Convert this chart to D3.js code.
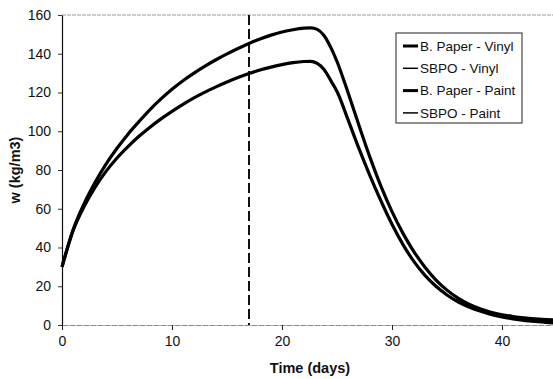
<!DOCTYPE html>
<html>
<head>
<meta charset="utf-8">
<script src="https://cdn.jsdelivr.net/npm/d3@7"></script>
<style>
  html, body { margin: 0; padding: 0; background: #fff; }
  svg { display: block; font-family: "Liberation Sans", Arial, sans-serif; }
</style>
</head>
<body>
<svg id="chart" width="553" height="379"></svg>
<script>
// Time axis (days) shared by all series
const days = [0, 1, 2, 3, 4, 5, 6, 7, 8, 9, 10, 11, 12, 13, 14, 15, 16, 17, 18, 19, 20, 21, 22,
  22.6, 23.2, 23.8, 24.5, 25, 26, 27, 28, 29, 30, 31, 32, 33, 34, 35, 36, 37, 38, 39, 40, 41, 42, 43, 44, 45];

// Moisture content w (kg/m3) for each wall assembly
const bPaperVinyl = [30, 49, 62.5, 73.5, 83, 91.2, 98.5, 105, 111.2, 116.7, 121.7, 126.1, 130, 133.6, 136.9, 139.9, 142.7, 145.3, 147.6, 149.6, 151.2, 152.4, 153.2,
  153.4, 152.6, 149.6, 142.5, 136, 120, 103, 86.5, 71.5, 58.5, 47.3, 37.8, 29.8, 23.2, 18, 13.9, 10.8, 8.4, 6.6, 5.3, 4.4, 3.7, 3.2, 2.8, 2.5];
const sbpoVinyl = [30, 49, 62.5, 73.5, 83, 91.2, 98.5, 105, 111.2, 116.7, 121.7, 126.1, 130, 133.6, 136.9, 139.9, 142.7, 145.3, 147.6, 149.6, 151.2, 152.4, 153.2,
  153.4, 152.6, 149.6, 142.5, 136, 120, 103, 86.5, 71.5, 58.5, 47.3, 37.8, 29.8, 23.2, 17.8, 13.6, 10.5, 8.1, 6.3, 5.0, 4.0, 3.1, 2.4, 1.9, 1.5];
const bPaperPaint = [30, 48.5, 61, 71, 79.3, 86.2, 92.1, 97.4, 102.1, 106.4, 110.3, 113.9, 117.2, 120.2, 122.9, 125.4, 127.7, 129.8, 131.6, 133.1, 134.4, 135.4, 136,
  136.1, 135, 132, 125.5, 120.5, 106, 91, 77, 64, 52, 41.5, 32.7, 25.6, 20, 15.5, 12, 9.3, 7.2, 5.5, 4.2, 3.2, 2.4, 1.8, 1.3, 1.0];
const sbpoPaint = [30, 48.5, 61, 71, 79.3, 86.2, 92.1, 97.4, 102.1, 106.4, 110.3, 113.9, 117.2, 120.2, 122.9, 125.4, 127.7, 129.8, 131.6, 133.1, 134.4, 135.4, 136,
  136.1, 135, 132, 125.5, 120.5, 106, 91, 77, 64, 52, 41.5, 32.7, 25.6, 20, 15.6, 12.2, 9.5, 7.5, 5.9, 4.5, 3.5, 2.7, 2.1, 1.6, 1.2];

const seriesNames = ["B. Paper - Vinyl", "SBPO - Vinyl", "B. Paper - Paint", "SBPO - Paint"];
const seriesValues = [bPaperVinyl, sbpoVinyl, bPaperPaint, sbpoPaint];
const seriesWidths = [3.2, 1.2, 3.2, 1.2];

const xTicks = [0, 10, 20, 30, 40];
const yTicks = [0, 20, 40, 60, 80, 100, 120, 140, 160];
const markerDay = 17;

const svg = d3.select("#chart");
const plotLeft = 62, plotTop = 15, plotBottom = 325, plotRight = 557;

const x = d3.scaleLinear().domain([0, 45]).range([plotLeft, plotRight]);
const y = d3.scaleLinear().domain([0, 160]).range([plotBottom, plotTop]);

// plot frame: light top border
svg.append("line")
  .attr("x1", plotLeft).attr("x2", 553).attr("y1", y(160)).attr("y2", y(160))
  .attr("stroke", "#9a9a9a").attr("stroke-width", 1).attr("stroke-dasharray", "4,1");

// y axis
const yAxis = svg.append("g")
  .attr("transform", `translate(${plotLeft},0)`)
  .call(d3.axisLeft(y).tickValues(yTicks).tickSize(4).tickPadding(7).tickSizeOuter(0));
yAxis.select(".domain").attr("stroke", "#111").attr("stroke-width", 1.2);
yAxis.selectAll(".tick line").attr("stroke", "#333");
yAxis.selectAll("text").attr("font-size", 14).attr("fill", "#111")
  .attr("font-family", "Liberation Sans, Arial, sans-serif");

// x axis
const xAxis = svg.append("g")
  .attr("transform", `translate(0,${plotBottom})`)
  .call(d3.axisBottom(x).tickValues(xTicks).tickSize(5).tickPadding(6).tickSizeOuter(0));
xAxis.select(".domain").attr("stroke", "#8a8a8a").attr("stroke-width", 1).attr("stroke-dasharray", "6,1");
xAxis.selectAll(".tick line").attr("stroke", "#222");
xAxis.selectAll("text").attr("font-size", 14).attr("fill", "#111")
  .attr("font-family", "Liberation Sans, Arial, sans-serif");

// axis titles
svg.append("text")
  .attr("transform", `translate(20,${(plotTop + plotBottom) / 2}) rotate(-90)`)
  .attr("text-anchor", "middle")
  .attr("font-size", 14.5).attr("font-weight", "bold").attr("fill", "#111")
  .text("w (kg/m3)");
svg.append("text")
  .attr("x", 310).attr("y", 373)
  .attr("text-anchor", "middle")
  .attr("font-size", 14.5).attr("font-weight", "bold").attr("fill", "#111")
  .text("Time (days)");

// vertical dashed marker
svg.append("line")
  .attr("x1", x(markerDay)).attr("x2", x(markerDay))
  .attr("y1", y(160)).attr("y2", y(0))
  .attr("stroke", "#111").attr("stroke-width", 2).attr("stroke-dasharray", "10,4");

// series curves
const line = d3.line()
  .x((d, i) => x(days[i]))
  .y(d => y(d))
  .curve(d3.curveMonotoneX);

seriesValues.forEach((vals, k) => {
  svg.append("path")
    .datum(vals)
    .attr("fill", "none")
    .attr("stroke", "#000")
    .attr("stroke-width", seriesWidths[k])
    .attr("stroke-linejoin", "round")
    .attr("d", line);
});

// legend
const lg = svg.append("g").attr("transform", "translate(396,33)");
lg.append("rect")
  .attr("x", 0).attr("y", 0).attr("width", 126).attr("height", 90)
  .attr("fill", "#fff").attr("stroke", "#222").attr("stroke-width", 1);
seriesNames.forEach((name, k) => {
  const cy = 13 + k * 22.3;
  lg.append("line")
    .attr("x1", 7).attr("x2", 22).attr("y1", cy).attr("y2", cy)
    .attr("stroke", "#000").attr("stroke-width", k % 2 === 0 ? 3 : 1.5);
  lg.append("text")
    .attr("x", 24).attr("y", cy + 4.7)
    .attr("font-size", 13.5).attr("fill", "#111")
    .text(name);
});
</script>
</body>
</html>
